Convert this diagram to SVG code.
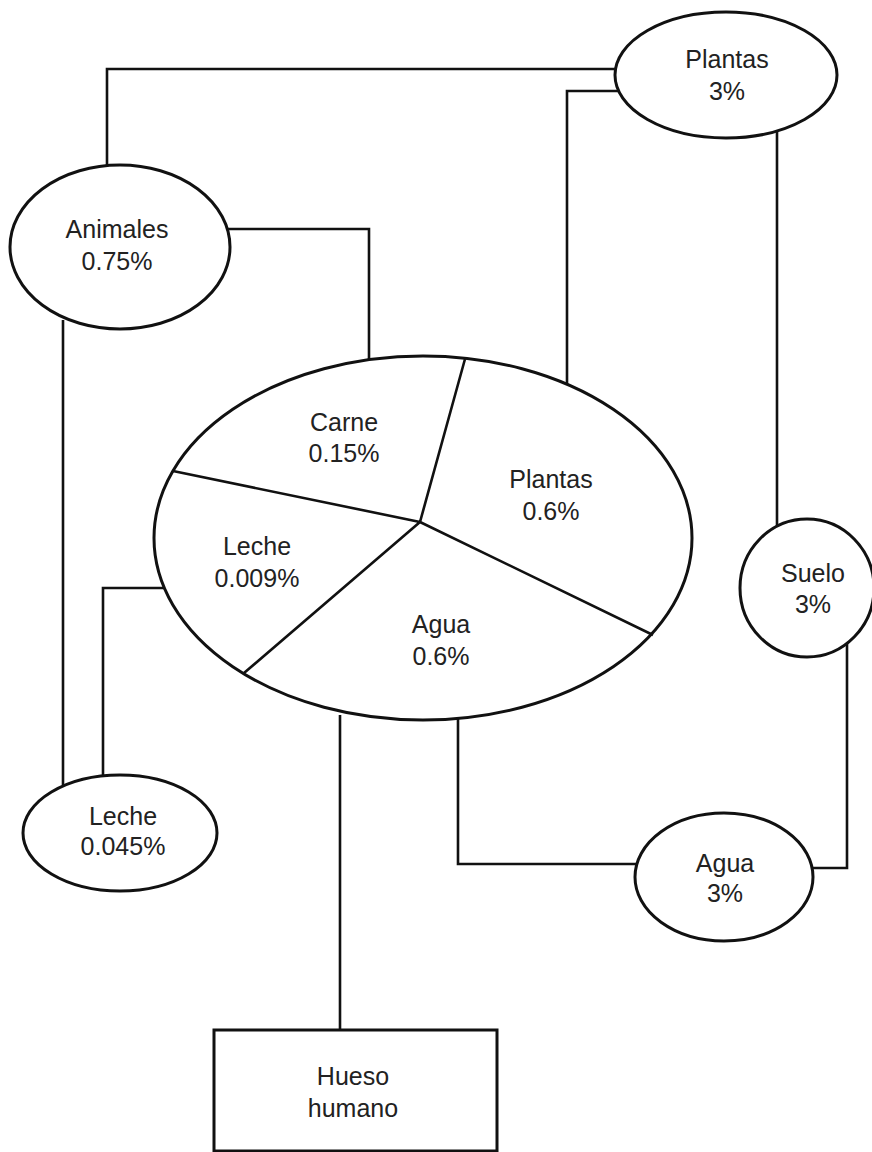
<svg xmlns="http://www.w3.org/2000/svg" width="872" height="1152" viewBox="0 0 872 1152">
<style>
.c{fill:none;stroke:#111;stroke-width:2.6;stroke-linejoin:miter}
.n{fill:#fff;stroke:#111;stroke-width:3}
.s{fill:none;stroke:#111;stroke-width:2.6}
text{font-family:"Liberation Sans",Arial,sans-serif;font-size:25px;fill:#222;text-anchor:middle}
</style>
<rect width="872" height="1152" fill="#fff"/>
<g id="connectors">
<path class="c" d="M107 172 V69 H620"/>
<path class="c" d="M620 91 H567 V385"/>
<path class="c" d="M225 229 H369 V365"/>
<path class="c" d="M777 125 V530"/>
<path class="c" d="M63 320 V785"/>
<path class="c" d="M165 588 H103 V780"/>
<path class="c" d="M340 715 V1032"/>
<path class="c" d="M458 715 V864 H640"/>
<path class="c" d="M808 868 H847 V640"/>
</g>
<g id="plantas-top">
<ellipse class="n" cx="726" cy="75" rx="111" ry="63"/>
<text x="727" y="68">Plantas</text>
<text x="727" y="100">3%</text>
</g>
<g id="animales">
<ellipse class="n" cx="120" cy="247" rx="110" ry="82"/>
<text x="117" y="238">Animales</text>
<text x="117" y="270">0.75%</text>
</g>
<g id="suelo">
<ellipse class="n" cx="807" cy="588" rx="67" ry="69"/>
<text x="813" y="582">Suelo</text>
<text x="813" y="613">3%</text>
</g>
<g id="leche-bottom">
<ellipse class="n" cx="120" cy="833" rx="97" ry="58"/>
<text x="123" y="825">Leche</text>
<text x="123" y="855">0.045%</text>
</g>
<g id="agua-bottom">
<ellipse class="n" cx="724" cy="877" rx="89" ry="64"/>
<text x="725" y="872">Agua</text>
<text x="725" y="902">3%</text>
</g>
<g id="hueso">
<rect class="n" x="214" y="1030" width="283" height="121"/>
<text x="353" y="1085">Hueso</text>
<text x="353" y="1117">humano</text>
</g>
<g id="pie">
<ellipse class="n" cx="423" cy="538" rx="269" ry="182"/>
<path class="s" d="M465 359 L420 522 L173 471 M420 522 L244 673 M420 522 L653 635"/>
<g id="pie-carne"><text x="344" y="431">Carne</text><text x="344" y="462">0.15%</text></g>
<g id="pie-plantas"><text x="551" y="488">Plantas</text><text x="551" y="520">0.6%</text></g>
<g id="pie-leche"><text x="257" y="555">Leche</text><text x="257" y="587">0.009%</text></g>
<g id="pie-agua"><text x="441" y="633">Agua</text><text x="441" y="665">0.6%</text></g>
</g>
</svg>
